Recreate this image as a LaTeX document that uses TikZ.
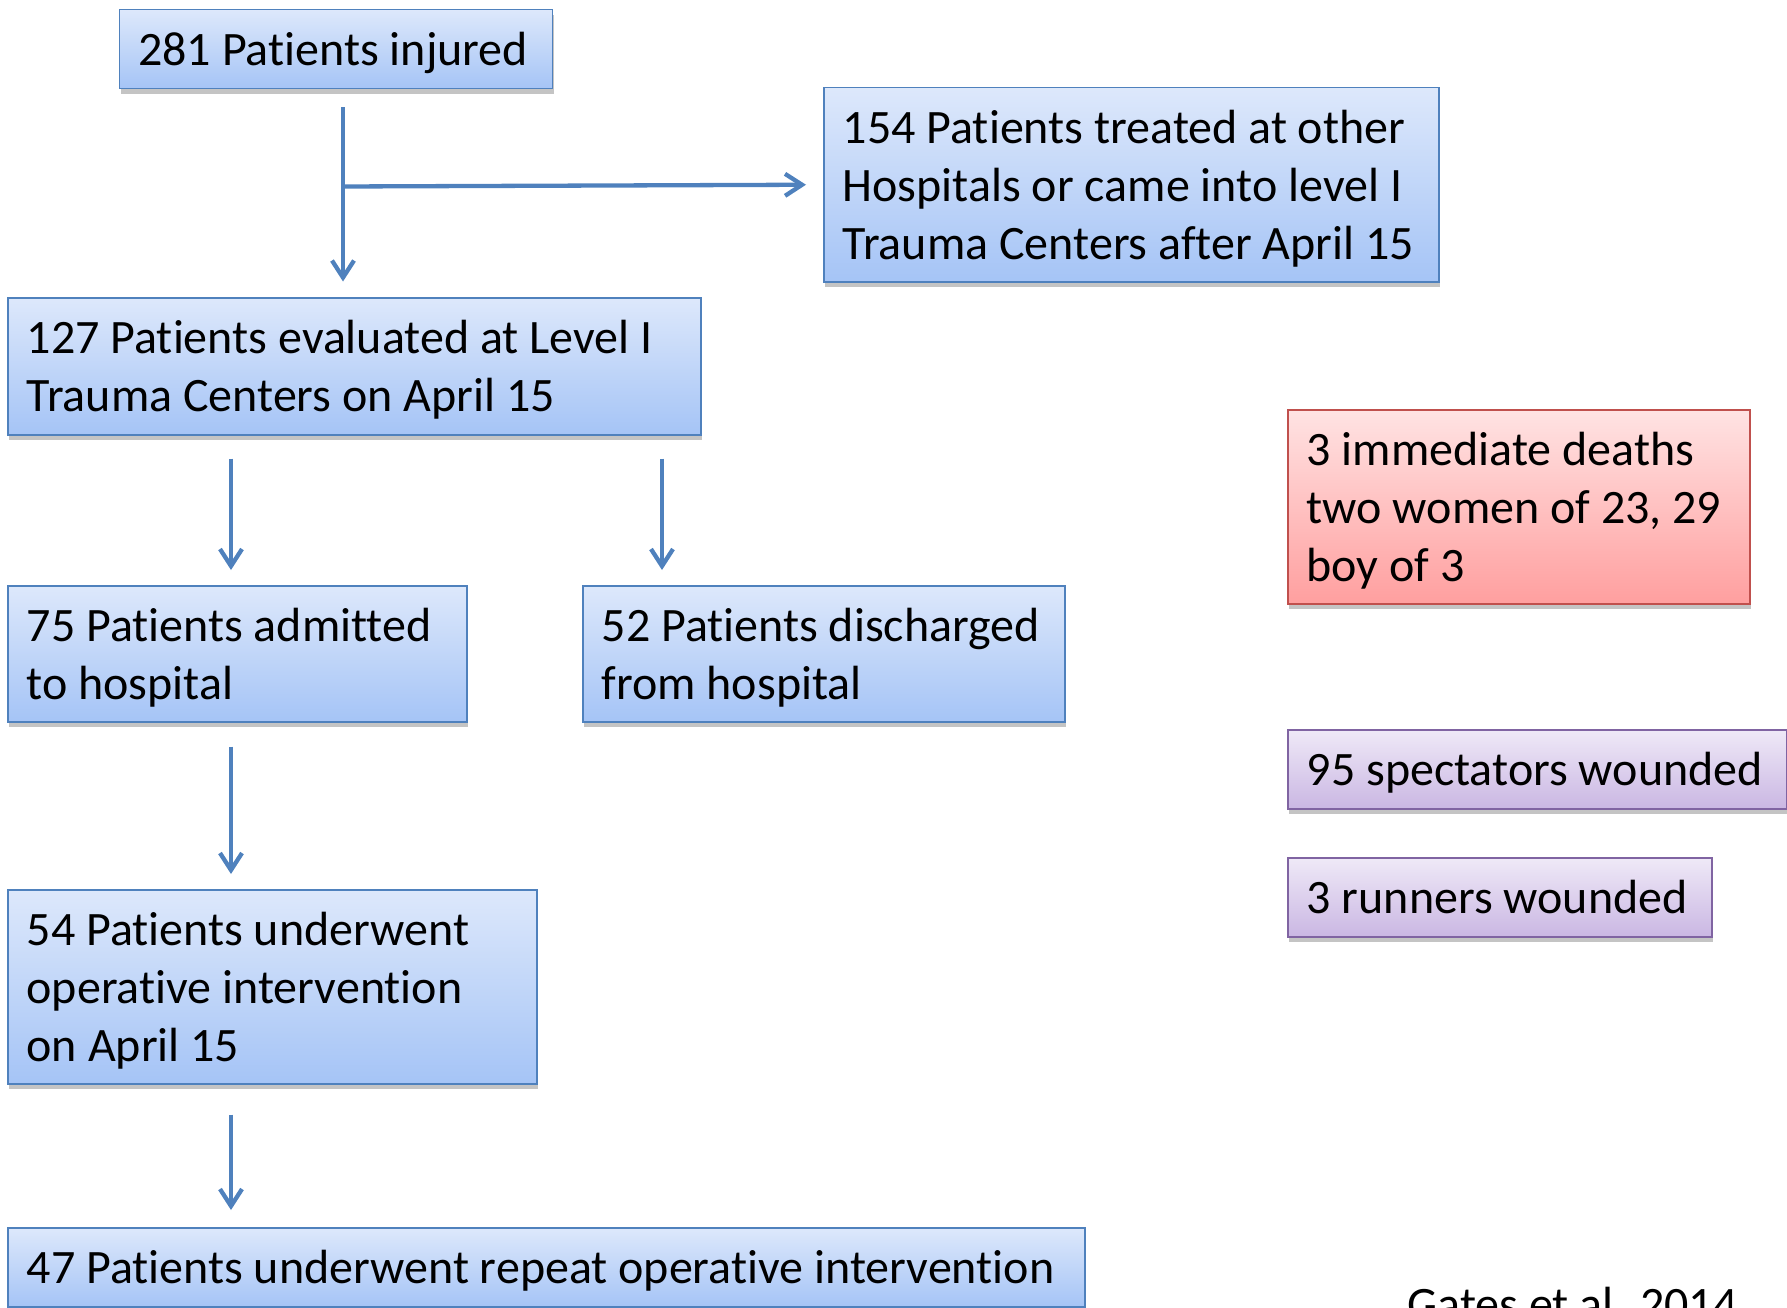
\documentclass[tikz,border=0pt]{standalone}
\usepackage{fontspec}
\setmainfont[Ligatures={NoCommon}]{Carlito}
\usetikzlibrary{calc,arrows.meta,shadows}
\definecolor{bluetop}{HTML}{DDE8FB}
\definecolor{bluebot}{HTML}{A5C4F6}
\definecolor{blueline}{HTML}{4F81BD}
\definecolor{redtop}{HTML}{FFE3E3}
\definecolor{redbot}{HTML}{FF9F9F}
\definecolor{redline}{HTML}{C0504D}
\definecolor{purtop}{HTML}{EFE9F7}
\definecolor{purbot}{HTML}{CAB7E3}
\definecolor{purline}{HTML}{8064A2}
\definecolor{shadowgray}{HTML}{C4C4C4}
\begin{document}
\begin{tikzpicture}[x=1pt,y=-1pt,
  boxbase/.style={rectangle, anchor=north west, inner sep=0pt, line width=1.5pt,
    drop shadow={shadow xshift=1.5pt, shadow yshift=-5pt, fill=shadowgray, opacity=1}},
  bluebox/.style={boxbase, draw=blueline, top color=bluetop, bottom color=bluebot},
  redbox/.style={boxbase, draw=redline, top color=redtop, bottom color=redbot},
  purbox/.style={boxbase, draw=purline, top color=purtop, bottom color=purbot},
  txt/.style={anchor=base west, inner sep=0pt, text=black,
    font=\fontsize{48}{58}\selectfont},
  arr/.style={draw=blueline, line width=4.3pt, -{Straight Barb[length=17pt,width=22pt]}}
]
\useasboundingbox (0,0) rectangle (1787,1308);

% boxes
\node[bluebox, minimum width=433pt, minimum height=79pt] (inj) at (118.5,9) {};
\node[bluebox, minimum width=615pt, minimum height=194pt] (treated) at (823,87) {};
\node[bluebox, minimum width=693pt, minimum height=137pt] (eval) at (7,297) {};
\node[bluebox, minimum width=459pt, minimum height=136pt] (adm) at (7,585) {};
\node[bluebox, minimum width=482pt, minimum height=136pt] (dis) at (582,585) {};
\node[bluebox, minimum width=529pt, minimum height=194pt] (op) at (7,889) {};
\node[bluebox, minimum width=1077pt, minimum height=79pt] (rep) at (7,1227) {};
\node[redbox, minimum width=462pt, minimum height=194pt] (death) at (1287,409) {};
\node[purbox, minimum width=499pt, minimum height=79pt] (spec) at (1287,729) {};
\node[purbox, minimum width=424pt, minimum height=79pt] (run) at (1287,857) {};

% texts
\node[txt] (tinj) at ($(inj.west)+(19.5,16.5)$) {281 Patients injured};
\node[txt] (ttreated) at ($(treated.west)+(19.5,-41.5)$) {\begin{tabular}[t]{@{}l@{}}154 Patients treated at other\\Hospitals or came into level I\\Trauma Centers after April 15\end{tabular}};
\node[txt] (teval) at ($(eval.west)+(19.5,-12.5)$) {\begin{tabular}[t]{@{}l@{}}127 Patients evaluated at Level I\\Trauma Centers on April 15\end{tabular}};
\node[txt] (tadm) at ($(adm.west)+(19.5,-12.5)$) {\begin{tabular}[t]{@{}l@{}}75 Patients admitted\\to hospital\end{tabular}};
\node[txt] (tdis) at ($(dis.west)+(19.5,-12.5)$) {\begin{tabular}[t]{@{}l@{}}52 Patients discharged\\from hospital\end{tabular}};
\node[txt] (top) at ($(op.west)+(19.5,-41.5)$) {\begin{tabular}[t]{@{}l@{}}54 Patients underwent\\operative intervention\\on April 15\end{tabular}};
\node[txt] (trep) at ($(rep.west)+(19.5,16.5)$) {47 Patients underwent repeat operative intervention};
\node[txt] (tdeath) at ($(death.west)+(19.5,-41.5)$) {\begin{tabular}[t]{@{}l@{}}3 immediate deaths\\two women of 23, 29\\boy of 3\end{tabular}};
\node[txt] (tspec) at ($(spec.west)+(19.5,16.5)$) {95 spectators wounded};
\node[txt] (trun) at ($(run.west)+(19.5,16.5)$) {3 runners wounded};
\node[txt] (cite) at (1407,1320.5) {Gates et al. 2014};

% connectors
\coordinate (br) at ($(inj.south west)+(224.5,97)$);
\draw[arr] ($(inj.south west)+(224.5,18)$) -- ($(eval.north west)+(336,-15.5)$);
\draw[arr] (br) -- ($(treated.west)+(-17,0)$);
\draw[arr] ($(eval.south west)+(224,23)$) -- ($(adm.north west)+(224,-15)$);
\draw[arr] ($(eval.south west)+(655,23)$) -- ($(dis.north west)+(80,-15)$);
\draw[arr] ($(adm.south west)+(224,24)$) -- ($(op.north west)+(224,-15)$);
\draw[arr] ($(op.south west)+(224,30)$) -- ($(rep.north west)+(224,-17)$);
\end{tikzpicture}
\end{document}
